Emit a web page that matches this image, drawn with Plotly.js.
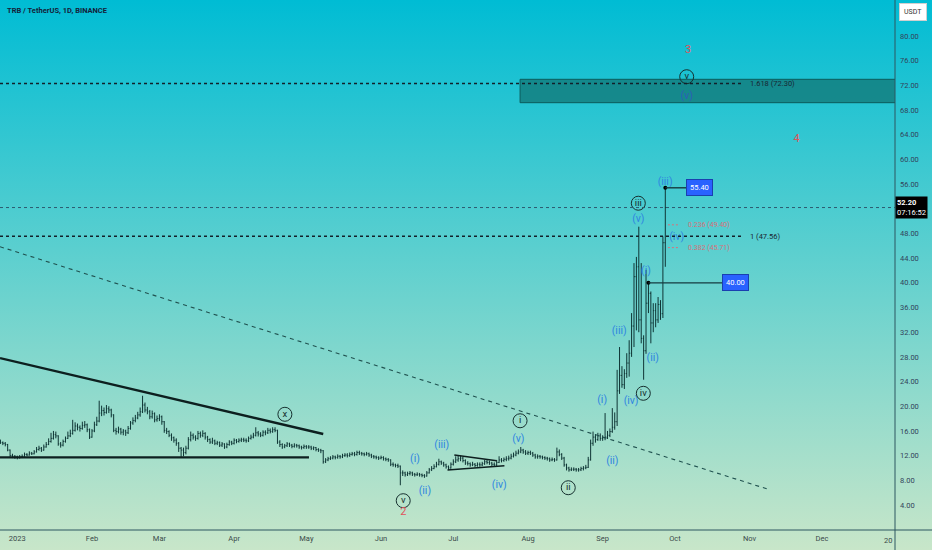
<!DOCTYPE html>
<html>
<head>
<meta charset="utf-8">
<script src="https://cdn.plot.ly/plotly-3.0.1.min.js"></script>
<style>
  html, body { margin: 0; padding: 0; }
  #chart { width: 932px; height: 550px; background: linear-gradient(to bottom, #00bcd4 0%, #c8e6c9 100%); }
</style>
</head>
<body>
<div id="chart"></div>
<script>
// ---------- DATA (TRB / USDT daily, from 2022-12-25) ----------
const firstDate = '2022-12-25';
const firstOpen = 14.3;
const closes = [
  14.1,14.0,13.8,12.9,12.0,11.9,11.8,
  11.7,11.8,11.9,12.2,12.1,12.4,12.3,12.6,13.0,13.2,
  12.9,13.4,13.8,14.3,14.8,15.4,15.2,13.9,13.7,14.3,
  14.8,15.2,15.6,16.1,16.8,16.6,16.4,16.9,17.0,16.2,
  15.0,16.0,17.0,17.6,18.9,19.3,19.0,19.6,19.4,18.6,
  16.1,15.9,16.3,15.8,16.0,15.7,16.4,17.3,17.7,18.1,
  18.6,19.1,20.2,19.4,19.1,18.3,18.8,17.8,18.0,18.3,
  17.5,16.1,15.9,15.3,14.9,14.5,14.0,13.2,12.9,12.5,
  13.2,14.6,15.3,15.0,14.8,15.6,15.3,15.6,15.0,14.6,
  14.2,14.4,14.0,14.1,13.7,13.9,13.4,13.8,14.2,14.0,
  14.5,14.3,14.5,14.6,14.5,14.4,14.8,15.0,15.3,15.7,
  15.5,15.3,15.8,15.7,16.1,15.9,16.2,16.1,14.2,13.8,
  13.4,13.6,13.9,13.7,13.5,13.7,13.6,13.4,13.3,13.5,
  13.4,13.4,13.2,13.3,13.0,12.9,12.8,11.0,11.3,11.5,
  11.6,11.8,11.7,11.9,11.8,12.0,12.1,12.0,12.2,12.3,
  12.2,12.5,12.4,12.3,12.2,12.3,12.1,11.9,11.8,11.7,
  11.6,11.7,11.5,11.4,11.3,10.6,10.5,10.4,10.3,9.2,
  9.2,8.9,9.1,9.2,9.0,8.9,9.0,8.9,8.8,8.7,
  9.2,9.7,9.9,10.2,10.6,11.0,10.8,10.5,10.2,10.0,
  10.6,11.0,11.3,11.5,11.6,11.2,10.8,10.7,10.5,10.6,
  10.4,10.6,10.5,10.7,11.0,10.9,10.8,10.6,10.5,10.9,
  11.3,11.2,11.4,11.5,11.6,11.9,12.1,12.4,12.6,12.9,
  12.6,12.4,12.5,12.4,12.1,11.8,11.9,11.8,11.7,11.6,
  11.5,11.3,11.4,11.3,12.6,12.2,11.6,10.5,10.0,9.7,
  9.8,9.8,9.7,9.7,9.9,10.0,10.1,11.3,14.0,15.0,
  14.6,15.2,14.8,14.9,15.0,15.3,15.9,16.6,17.5,22.5,
  25.0,23.5,25.3,27.0,28.6,33.0,41.0,42.6,34.0,31.0,
  29.0,36.7,38.3,33.5,35.5,34.0,36.5,35.0,46.5,52.2
];
const highs = [
  14.6,14.3,14.2,13.9,13.0,12.3,12.1,
  12.0,12.1,12.2,12.5,12.4,12.7,12.6,12.9,13.4,13.6,
  13.4,13.8,14.2,14.8,15.7,16.0,15.9,15.3,14.2,14.6,
  15.1,15.9,16.2,17.8,17.4,17.2,16.9,17.5,17.6,17.2,
  16.4,16.3,17.5,18.3,20.9,20.1,19.8,20.2,20.0,19.6,
  18.7,16.5,16.7,16.5,16.3,16.2,16.8,17.6,18.2,18.6,
  19.1,19.8,21.7,20.6,19.9,19.4,19.3,19.0,18.5,18.7,
  18.5,17.6,16.5,16.1,15.6,15.1,14.8,14.2,13.4,13.3,
  13.6,15.0,15.9,15.6,15.3,16.0,15.9,16.1,15.8,15.2,
  14.8,14.9,14.6,14.4,14.3,14.2,14.0,14.1,14.5,14.4,
  14.8,14.7,14.8,14.9,14.9,14.8,15.1,15.4,15.7,16.6,
  16.0,15.8,16.1,16.1,16.5,16.4,16.6,16.6,16.2,14.5,
  14.0,13.9,14.2,14.1,13.9,14.0,13.9,13.8,13.6,13.8,
  13.7,13.7,13.6,13.5,13.4,13.2,13.1,12.9,11.6,11.8,
  11.9,12.1,12.0,12.2,12.1,12.3,12.4,12.4,12.5,12.6,
  12.6,12.8,12.8,12.6,12.5,12.6,12.5,12.3,12.1,12.0,
  11.9,12.0,11.9,11.7,11.6,11.4,10.9,10.7,10.7,10.4,
  9.6,9.4,9.4,9.5,9.4,9.2,9.3,9.2,9.1,9.0,
  9.5,10.0,10.3,10.6,11.0,11.5,11.2,11.0,10.7,10.4,
  10.9,11.4,11.9,12.0,12.0,11.8,11.4,11.1,10.9,11.0,
  10.8,10.9,10.9,11.0,11.3,11.3,11.2,11.0,10.9,11.3,
  11.9,11.6,11.7,11.9,12.0,12.3,12.5,12.8,13.0,13.4,
  13.1,12.9,12.8,12.8,12.6,12.3,12.2,12.1,12.0,11.9,
  11.8,11.7,11.7,11.6,13.3,13.0,12.4,11.8,10.7,10.2,
  10.1,10.1,10.0,10.0,10.2,10.3,10.5,11.8,14.6,15.9,
  15.5,15.7,15.6,15.3,18.9,16.0,16.4,19.7,19.0,25.9,
  29.6,26.5,26.0,28.6,30.7,35.1,43.2,44.2,49.1,43.2,
  31.5,42.1,40.0,38.6,36.7,36.7,37.7,37.2,47.5,55.4
];
const lows = [
  13.9,13.7,13.5,12.7,11.8,11.6,11.5,
  11.4,11.5,11.6,11.8,11.9,12.0,12.1,12.2,12.5,12.8,
  12.6,12.8,13.3,13.7,14.1,14.6,14.8,13.6,13.3,13.5,
  14.1,14.7,15.0,15.4,15.9,16.1,15.9,16.2,16.5,15.8,
  14.7,14.9,15.8,16.8,17.4,18.4,18.5,18.8,18.9,18.2,
  15.8,15.4,15.6,15.4,15.3,15.2,15.5,16.2,17.0,17.4,
  17.9,18.3,18.9,19.0,18.7,17.9,18.0,17.4,17.5,17.6,
  17.0,15.7,15.5,15.0,14.4,14.1,13.6,12.6,11.8,11.9,
  12.2,13.0,14.3,14.6,14.4,14.6,14.9,15.0,14.6,14.2,
  13.9,13.9,13.7,13.7,13.4,13.4,13.1,13.2,13.6,13.7,
  13.8,14.0,14.1,14.2,14.2,14.1,14.2,14.6,14.8,15.1,
  15.1,15.0,15.1,15.3,15.5,15.6,15.7,15.8,13.9,13.4,
  13.1,13.2,13.4,13.4,13.2,13.3,13.3,13.1,13.0,13.1,
  13.1,13.1,12.9,12.9,12.7,12.6,12.4,10.7,10.8,11.1,
  11.3,11.4,11.4,11.5,11.5,11.6,11.8,11.7,11.8,12.0,
  11.9,12.0,12.1,12.0,11.9,12.0,11.8,11.6,11.5,11.4,
  11.3,11.4,11.2,11.1,11.0,10.3,10.2,10.1,10.0,7.2,
  8.7,8.6,8.7,8.8,8.7,8.6,8.7,8.6,8.5,8.4,
  8.6,9.1,9.5,9.8,10.1,10.4,10.5,10.2,9.9,9.7,
  9.9,10.4,10.8,11.0,11.1,10.9,10.5,10.4,10.2,10.3,
  10.1,10.2,10.2,10.3,10.5,10.6,10.5,10.3,10.2,10.3,
  10.8,10.9,11.0,11.1,11.2,11.4,11.7,11.9,12.2,12.4,
  12.3,12.1,12.1,12.1,11.8,11.5,11.5,11.5,11.4,11.3,
  11.2,11.0,11.1,11.0,11.2,11.9,11.3,10.2,9.6,9.4,
  9.5,9.5,9.4,9.4,9.5,9.6,9.8,10.0,11.2,13.6,
  14.1,14.4,14.4,14.4,14.5,14.7,15.0,15.7,16.2,16.8,
  22.0,23.0,22.8,24.6,24.8,28.0,29.6,32.3,32.0,30.2,
  24.3,28.5,35.1,30.2,32.0,32.8,33.5,34.0,34.3,42.6
];

// wave labels (blue)
const blueText   = ['(v)','(iii)','(v)','(iv)','(i)','(iii)','(ii)','(iv)','(i)','(ii)','(v)','(iv)','(iii)','(i)','(ii)'];
const blueDates  = ['2023-10-05 21:00','2023-09-26 22:00','2023-09-15 19:00','2023-10-01 17:00','2023-09-19 00:00','2023-09-07 21:00','2023-09-21 19:00','2023-09-12 19:00','2023-08-31 19:00','2023-09-05 00:00','2023-07-28 00:00','2023-07-20 02:00','2023-06-26 05:00','2023-06-15 02:00','2023-06-19 05:00'];
const bluePrices = [70.16,56.2,50.3,47.3,41.8,32.1,27.76,20.85,20.9,11.0,14.64,7.24,13.6,11.45,6.15];

// circled labels
const circText   = ['v','iii','iv','ii','i','v','x'];
const circDates  = ['2023-10-05 21:00','2023-09-15 19:00','2023-09-17 21:00','2023-08-17 17:00','2023-07-28 17:00','2023-06-10 05:00','2023-04-22 02:00'];
const circPrices = [73.4,52.9,22.1,6.8,17.65,4.7,18.7];

// red wave degree labels
const redText   = ['3','4','2'];
const redDates  = ['2023-10-06 10:00','2023-11-20 12:00','2023-06-10 05:00'];
const redPrices = [77.7,63.3,2.9];

// levels
const fibLevels = [72.30, 47.56];
const fibLabels = ['1.618 (72.30)', '1 (47.56)'];
const retrLevels = [49.40, 45.71];
const retrLabels = ['0.236 (49.40)', '0.382 (45.71)'];
const lastPrice = 52.20;
const priceMarks = [55.40, 40.00];
const priceMarkDates = ['2023-09-27', '2023-09-20'];
const priceBoxDates = ['2023-10-11 00:00', '2023-10-26 07:00'];
const priceLineEnds = ['2023-10-06 10:00', '2023-10-20 22:00'];
const zone = {x0: '2023-07-28 17:00', x1: '2024-02-01', y0: 69.19, y1: 72.98};

// trendlines [date0, price0, date1, price1]
const resistLine = ['2022-12-24 19:40', 27.8, '2023-05-08 00:00', 15.5];
const supportLine = ['2022-12-24 19:40', 11.72, '2023-05-02 02:00', 11.72];
const dashedLine = ['2022-12-24 19:40', 45.85, '2023-11-08 10:00', 6.59];
const triUpper = ['2023-07-01 10:00', 12.1, '2023-07-19 00:00', 11.17];
const triLower = ['2023-06-28 14:00', 9.67, '2023-07-22 05:00', 10.37];

const monthTicks = ['2023-01-01','2023-02-01','2023-03-01','2023-04-01','2023-05-01','2023-06-01','2023-07-01','2023-08-01','2023-09-01','2023-10-01','2023-11-01','2023-12-01'];
const monthLabels = ['2023','Feb','Mar','Apr','May','Jun','Jul','Aug','Sep','Oct','Nov','Dec'];
const priceTicks = [4,8,12,16,20,24,28,32,36,40,44,48,56,60,64,68,72,76,80];

// ---------- BUILD ----------
const dates = closes.map((_, i) => {
  const d = new Date(Date.UTC(2022, 11, 25 + i));
  return d.toISOString().slice(0, 10);
});
const opens = closes.map((c, i) => i === 0 ? firstOpen : closes[i - 1]);

const barColor = '#0f3535';
const dark = '#16302f';
const blue = '#2f86e0';
const red = '#e0525a';
const font = 'Roboto, "Liberation Sans", Arial, sans-serif';

const traces = [
  {
    type: 'ohlc', x: dates, open: opens, high: highs, low: lows, close: closes,
    increasing: {line: {color: barColor, width: 1}},
    decreasing: {line: {color: barColor, width: 1}},
    tickwidth: 0.35, hoverinfo: 'skip', showlegend: false
  },
  {
    type: 'scatter', mode: 'text', x: blueDates, y: bluePrices, text: blueText,
    textfont: {family: font, size: 10.5, color: blueText.map((t, i) => i === 0 ? '#2d5fb8' : blue)},
    textposition: 'middle center', hoverinfo: 'skip', showlegend: false, cliponaxis: false
  },
  {
    type: 'scatter', mode: 'markers+text', x: circDates, y: circPrices, text: circText,
    marker: {symbol: 'circle-open', size: 14, color: dark, line: {color: dark, width: 1}},
    textfont: {family: font, size: 9.5, color: dark},
    textposition: 'middle center', hoverinfo: 'skip', showlegend: false, cliponaxis: false
  },
  {
    type: 'scatter', mode: 'text', x: redDates, y: redPrices, text: redText,
    textfont: {family: font, size: 11, color: red},
    textposition: 'middle center', hoverinfo: 'skip', showlegend: false, cliponaxis: false
  },
  {
    type: 'scatter', mode: 'markers', x: priceMarkDates, y: priceMarks,
    marker: {size: 4, color: '#000000'}, hoverinfo: 'skip', showlegend: false
  }
];

const seg = (a, style) => Object.assign({type: 'line', xref: 'x', yref: 'y', x0: a[0], y0: a[1], x1: a[2], y1: a[3]}, style);

const shapes = [
  {type: 'rect', xref: 'x', yref: 'y', x0: zone.x0, x1: zone.x1, y0: zone.y0, y1: zone.y1,
   fillcolor: 'rgba(18,120,120,0.78)', line: {color: '#0c5c5c', width: 1}, layer: 'below'},
  seg(resistLine, {line: {color: '#0d1f1f', width: 2.4}}),
  seg(supportLine, {line: {color: '#0d1f1f', width: 2.4}}),
  seg(dashedLine, {line: {color: '#20514f', width: 1.1, dash: '4px,4px'}}),
  seg(triUpper, {line: {color: '#0d1f1f', width: 1.6}}),
  seg(triLower, {line: {color: '#0d1f1f', width: 1.6}}),
  {type: 'line', xref: 'paper', yref: 'y', x0: 0, x1: 1, y0: lastPrice, y1: lastPrice,
   line: {color: '#2d5a70', width: 1, dash: 'dot'}}
];
fibLevels.forEach(v => shapes.push({type: 'line', xref: 'x', yref: 'y', x0: '2022-12-24 19:40', x1: '2023-10-29 14:00', y0: v, y1: v,
  line: {color: '#13202a', width: 1.4, dash: 'dot'}}));
retrLevels.forEach(v => shapes.push({type: 'line', xref: 'x', yref: 'y', x0: '2023-09-28 02:00', x1: '2023-10-03 02:00', y0: v, y1: v,
  line: {color: '#d9707a', width: 1, dash: '2px,2px'}}));
priceMarks.forEach((v, i) => shapes.push({type: 'line', xref: 'x', yref: 'y', x0: priceMarkDates[i], x1: priceLineEnds[i], y0: v, y1: v,
  line: {color: '#163a40', width: 1.4}}));
// pane separators
shapes.push({type: 'line', xref: 'paper', yref: 'paper', x0: 1, x1: 1, y0: -0.04, y1: 1, line: {color: '#2c5660', width: 1}});
shapes.push({type: 'line', xref: 'paper', yref: 'paper', x0: 0, x1: 1.05, y0: 0, y1: 0, line: {color: '#2c5660', width: 1}});

const annotations = [
  {xref: 'paper', yref: 'paper', x: 0.006, y: 0.981, xanchor: 'left', yanchor: 'middle', showarrow: false,
   text: '<b>TRB / TetherUS, 1D, BINANCE</b>', font: {family: font, size: 7.5, color: '#14223a'}},
  {xref: 'paper', yref: 'paper', x: 1.0045, y: 0.978, xanchor: 'left', yanchor: 'middle', showarrow: false,
   text: 'USDT', font: {family: font, size: 7, color: '#333'}, bgcolor: '#ffffff', bordercolor: '#d0d0d0', borderwidth: 1, borderpad: 4},
  {xref: 'paper', yref: 'y', x: 1.0005, y: lastPrice, xanchor: 'left', yanchor: 'middle', showarrow: false, align: 'left',
   text: '<b>52.20</b><br>07:16:52', font: {family: font, size: 7.5, color: '#ffffff'}, bgcolor: '#000000', borderpad: 1},
  {xref: 'paper', yref: 'paper', x: 0.9985, y: -0.019, xanchor: 'right', yanchor: 'middle', showarrow: false,
   text: '20', font: {family: font, size: 7.5, color: '#3a4a4a'}}
];
fibLabels.forEach((t, i) => annotations.push({xref: 'x', yref: 'y', x: '2023-10-31 07:00', y: fibLevels[i], xanchor: 'left', yanchor: 'middle',
  showarrow: false, text: t, font: {family: font, size: 7.5, color: '#1a2633'}}));
retrLabels.forEach((t, i) => annotations.push({xref: 'x', yref: 'y', x: '2023-10-05 16:00', y: retrLevels[i], xanchor: 'left', yanchor: 'middle',
  showarrow: false, text: t, font: {family: font, size: 7, color: '#d9707a'}}));
priceMarks.forEach((v, i) => annotations.push({xref: 'x', yref: 'y', x: priceBoxDates[i], y: v, xanchor: 'center', yanchor: 'middle',
  showarrow: false, text: v.toFixed(2), font: {family: font, size: 7.5, color: '#ffffff'},
  bgcolor: '#2962ff', bordercolor: '#1a3fb0', borderwidth: 1, borderpad: 3}));

const layout = {
  width: 932, height: 550,
  margin: {l: 0, r: 37, t: 0, b: 20},
  paper_bgcolor: 'rgba(0,0,0,0)', plot_bgcolor: 'rgba(0,0,0,0)',
  showlegend: false,
  xaxis: {
    type: 'date', range: ['2022-12-24 19:40', '2023-12-31 08:24'],
    rangeslider: {visible: false}, showgrid: false, zeroline: false, showline: false,
    tickvals: monthTicks, ticktext: monthLabels, ticks: '', ticklabelstandoff: 2,
    tickfont: {family: font, size: 7.5, color: '#3a4a4a'}, fixedrange: true
  },
  yaxis: {
    side: 'right', range: [-0.05, 85.83], showgrid: false, zeroline: false, showline: false,
    tickvals: priceTicks, tickformat: '.2f', ticks: '', ticklabelstandoff: 4,
    tickfont: {family: font, size: 7.5, color: '#33445a'}, fixedrange: true
  },
  shapes: shapes,
  annotations: annotations
};

Plotly.newPlot('chart', traces, layout, {staticPlot: true, displayModeBar: false});
</script>
</body>
</html>
